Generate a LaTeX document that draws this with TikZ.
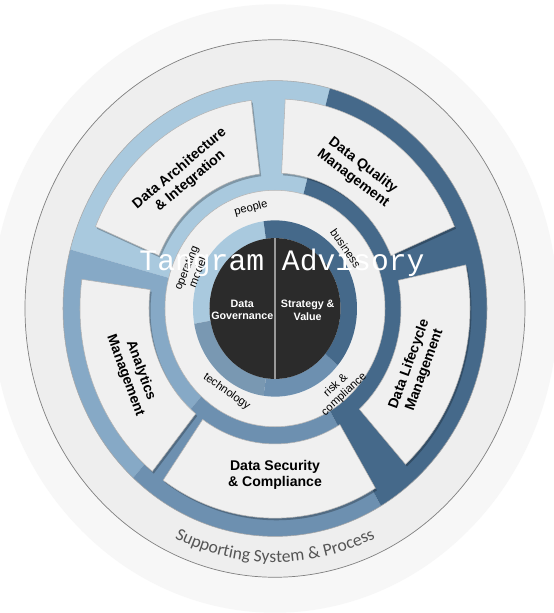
\documentclass[tikz,border=0pt]{standalone}
\usepackage{fontspec}
\usepackage{pdfrender}
\setmainfont{Liberation Sans}
\newfontfamily\supfont{Carlito}
\newfontfamily\wmfont{Liberation Mono}
\usetikzlibrary{decorations.text}

\definecolor{haze}{HTML}{F7F7F7}
\definecolor{ringgray}{HTML}{EEEEEE}
\definecolor{boxwhite}{HTML}{F0F0F0}
\definecolor{bluelight}{HTML}{A9C9DE}
\definecolor{bluemidlight}{HTML}{86A9C6}
\definecolor{bluemid}{HTML}{6D90B0}
\definecolor{bluedark}{HTML}{45698A}
\definecolor{coregray}{HTML}{2B2B2B}
\definecolor{supgray}{HTML}{555555}

% annular piece: inner radius, outer radius, start angle, end angle
\newcommand{\ringpart}[4]{(#3:#2) arc[start angle=#3, end angle=#4, radius=#2] -- (#4:#1) arc[start angle=#4, end angle=#3, radius=#1] -- cycle}

\begin{document}
\begin{tikzpicture}[x=0.02cm, y=0.02cm,
  boxlabel/.style={font=\bfseries\fontsize{8}{9.3}\selectfont, align=center},
  ringlabel/.style={font=\fontsize{6.4}{7}\selectfont, align=center},
  corelabel/.style={font=\bfseries\fontsize{6.1}{7.2}\selectfont, align=center, text=white},
  watermark/.style={font=\wmfont\fontsize{16.9}{18}\selectfont, text=white},
  petal/.style={fill=boxwhite, draw=black!30, line width=0.3pt}]
\useasboundingbox (-275,-304.5) rectangle (279,308.5);
\fill[white] (-275,-304.5) rectangle (279,308.5);
\begin{scope}[yscale=1.075]
  \fill[haze] (0,0) circle[radius=283];
  \fill[ringgray] (0,0) circle[radius=250];
  \draw[black!50, line width=0.4pt] (0,0) circle[radius=250];
  % blue band
  \fill[bluelight] \ringpart{110}{212}{75}{165};
  \fill[bluemidlight] \ringpart{110}{212}{165}{228};
  \fill[bluemid] \ringpart{110}{212}{228}{300};
  \fill[bluedark] \ringpart{110}{212}{300}{435};
  \draw[black!35, line width=0.3pt] (0,0) circle[radius=212];
  % the five boxes
  \foreach \a/\b in {23/87, 97/157, 172/231, 235/301, 312/372}
    \fill[black, opacity=0.25, shift={(1.5,-2)}] \ringpart{126}{195}{\a}{\b};
  \foreach \a/\b in {23/87, 97/157, 172/231, 235/301, 312/372}
    \filldraw[petal] \ringpart{126}{195}{\a}{\b};
  % inner ring and core
  \filldraw[fill=boxwhite, draw=black!30, line width=0.3pt] (0,0) circle[radius=110];
  \fill[bluelight] \ringpart{65.5}{82}{98}{190};
  \fill[bluemidlight!90!black] \ringpart{65.5}{82}{190}{262};
  \fill[bluemid] \ringpart{65.5}{82}{262}{320};
  \fill[bluedark] \ringpart{65.5}{82}{320}{458};
  \fill[coregray] (0,0) circle[radius=65.5];
  \draw[black!40, line width=0.6pt] (90:65.5) -- (270:65.5);
  \path[decorate, decoration={text along path, text align=center, text color=supgray,
    text={|\supfont\fontsize{10}{12}\selectfont|Supporting System {\&} Process}}]
    (225:236) arc[start angle=225, end angle=315, radius=236];
\end{scope}
\node[boxlabel, rotate=40] (archlbl) at (-90,133.5) {Data Architecture\\\& Integration};
\node[boxlabel, rotate=-37] (qualitylbl) at (83,136.5) {Data Quality\\Management};
\node[boxlabel, rotate=70] (lifelbl) at (142,-58.5) {Data Lifecycle\\Management};
\node[boxlabel, rotate=-70] (analyticslbl) at (-142,-64.5) {Analytics\\Management};
\node[boxlabel] (securitylbl) at (0,-166.5) {Data Security\\\& Compliance};
\node[ringlabel, rotate=15] (peoplelbl) at (-24,100.2) {people};
\node[ringlabel, rotate=-55] (businesslbl) at (70.7,60.2) {business};
\node[ringlabel, rotate=68] (opmodellbl) at (-83.3,38.5) {operating\\model};
\node[ringlabel, rotate=-35] (techlbl) at (-48.3,-83.2) {technology};
\node[ringlabel, rotate=43] (risklbl) at (65,-81.5) {risk \&\\compliance};
\node[corelabel] (govlbl) at (-32.7,-1.5) {Data\\Governance};
\node[corelabel] (stratlbl) at (32.7,-1.5) {Strategy \&\\Value};
\node[watermark] (wmark) at (7,45.5)
  {\special{pdf:literal direct 0.55 G}\textpdfrender{TextRenderingMode=FillStroke, LineWidth=0.35pt}{Tangram Advisory}};
\end{tikzpicture}
\end{document}
